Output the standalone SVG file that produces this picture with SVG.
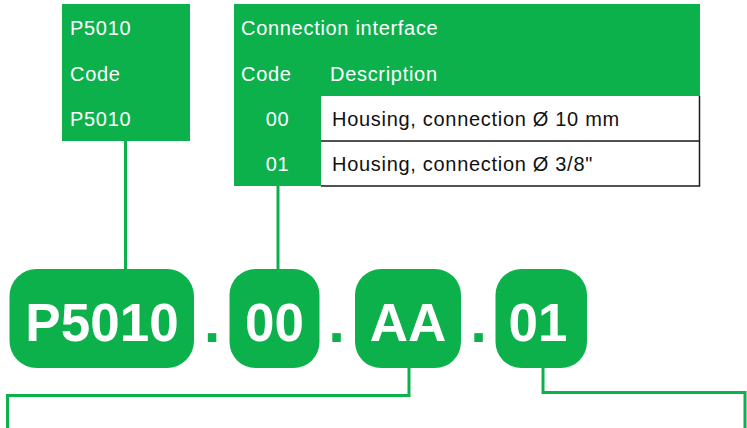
<svg xmlns="http://www.w3.org/2000/svg" width="747" height="428" viewBox="0 0 747 428">
  <style>
    .fill { fill: #0db14c; }
    .lbl { font-family: "Liberation Sans", Arial, Helvetica, sans-serif; font-size: 20px; letter-spacing: 0.7px; }
    .w { fill: #ffffff; }
    .k { fill: #111111; }
    .big { font-family: "Liberation Sans", Arial, Helvetica, sans-serif; font-size: 53px; font-weight: bold; fill: #ffffff; text-anchor: middle; }
    .dot { font-family: "Liberation Sans", Arial, Helvetica, sans-serif; font-size: 60px; font-weight: bold; fill: #0db14c; text-anchor: middle; }
    .wire { fill: none; stroke: #0db14c; stroke-width: 3; }
    .cell { fill: none; stroke: #1a1a1a; stroke-width: 1.5; }
  </style>

  <!-- connectors -->
  <g id="connectors">
    <line class="wire" x1="125.5" y1="140" x2="125.5" y2="270"/>
    <line class="wire" x1="278" y1="185" x2="278" y2="270"/>
    <polyline class="wire" points="409,367 409,395.5 7.5,395.5 7.5,428"/>
    <polyline class="wire" points="543,367 543,392.5 745,392.5 745,428"/>
  </g>

  <!-- product family box -->
  <g id="family-box">
    <rect class="fill" x="62" y="4" width="128" height="137"/>
    <text class="lbl w" x="70" y="35">P5010</text>
    <text class="lbl w" x="70" y="81">Code</text>
    <text class="lbl w" x="70" y="126">P5010</text>
  </g>

  <!-- connection interface table -->
  <g id="interface-table">
    <rect class="fill" x="234" y="4" width="466" height="92"/>
    <rect class="fill" x="234" y="95" width="87" height="91"/>
    <rect x="321" y="96" width="379" height="90" fill="#ffffff"/>
    <path class="cell" d="M321,141 H699.5 M699.5,96 V186 H321"/>
    <text class="lbl w" x="241" y="35">Connection interface</text>
    <text class="lbl w" x="241" y="81">Code</text>
    <text class="lbl w" x="330" y="81">Description</text>
    <text class="lbl w" x="277.5" y="126" text-anchor="middle">00</text>
    <text class="lbl w" x="277.5" y="171" text-anchor="middle">01</text>
    <text class="lbl k" x="332" y="126">Housing, connection Ø 10 mm</text>
    <text class="lbl k" x="332" y="171">Housing, connection Ø 3/8"</text>
  </g>

  <!-- order code segments -->
  <g id="seg-family">
    <rect class="fill" x="9.5" y="269" width="184.5" height="99" rx="27" ry="27"/>
    <text class="big" x="102" y="341">P5010</text>
  </g>
  <text class="dot" x="212" y="342">.</text>
  <g id="seg-interface">
    <rect class="fill" x="229.5" y="269" width="90" height="99" rx="26" ry="26"/>
    <text class="big" x="274.5" y="341">00</text>
  </g>
  <text class="dot" x="336.5" y="342">.</text>
  <g id="seg-aa">
    <rect class="fill" x="355" y="269" width="106" height="99" rx="26" ry="26"/>
    <text class="big" x="408" y="341">AA</text>
  </g>
  <text class="dot" x="478.5" y="342">.</text>
  <g id="seg-01">
    <rect class="fill" x="495.5" y="269" width="91.5" height="99" rx="26" ry="26"/>
    <text class="big" x="538" y="341">01</text>
  </g>
</svg>
